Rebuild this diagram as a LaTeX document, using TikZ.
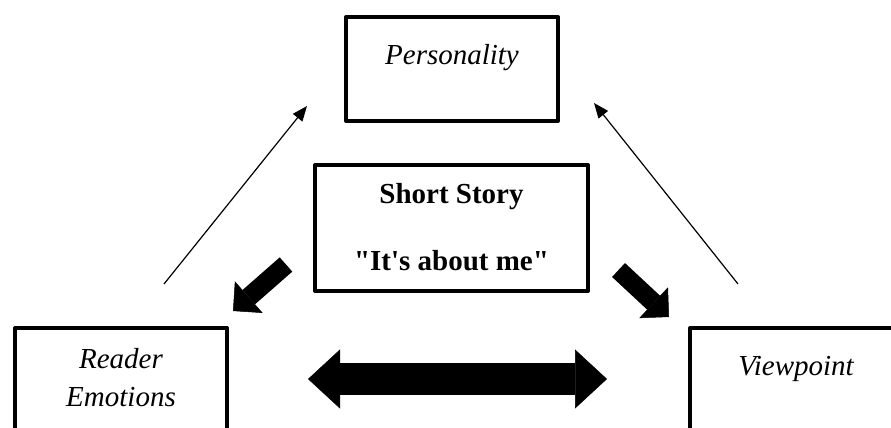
\documentclass[tikz,border=0pt]{standalone}
\usepackage{fontspec}
\newfontfamily\boxfont{Liberation Serif}
\usetikzlibrary{arrows.meta}

\tikzset{
	box/.style = {draw, line width = 4pt, line join = round, inner sep = 0pt},
	lbl/.style = {font = \boxfont\fontsize{29}{35}\selectfont, inner sep = 0pt, anchor = base},
	thinarrow/.style = {line width = 1.2pt, -{Triangle[length = 15pt, width = 12pt]}},
	blockarrow/.style = {line width = 19pt, -{Triangle[length = 21pt, width = 42pt, line width = 0.5pt]}},
	bigarrow/.style = {line width = 32pt, {Triangle[length = 32pt, width = 59pt, line width = 0.5pt]}-{Triangle[length = 32pt, width = 59pt, line width = 0.5pt]}}
}

\begin{document}
\begin{tikzpicture}[x = 1pt, y = -1pt]
	 \useasboundingbox (0, 0) rectangle (891, 428);
	 \clip (0, 0) rectangle (891, 428);
	 
	 % boxes
	 \node[box, minimum width = 212pt, minimum height = 104pt] (pers) at (452, 69) {};
	 \node[box, minimum width = 273pt, minimum height = 126pt] (story) at (451.5, 228) {};
	 \node[box, minimum width = 212pt, minimum height = 106pt] (reader) at (121, 381) {};
	 \node[box, minimum width = 212pt, minimum height = 106pt] (view) at (796, 381) {};
	 
	 % texts
	 \node[lbl] (perstext) at (452, 64) {\itshape Personality};
	 \node[lbl] (storytitle) at (451.5, 203) {\bfseries Short Story};
	 \node[lbl] (storyquote) at (451.5, 270) {\bfseries "It's about me"};
	 \node[lbl] (readertop) at (121, 368) {\itshape Reader};
	 \node[lbl] (readerbottom) at (121, 406) {\itshape Emotions};
	 \node[lbl] (viewtext) at (796, 375) {\itshape Viewpoint};
	 
	 % thin arrows up to the top box
	 \coordinate (lfoot) at (164, 284);
	 \coordinate (ltip) at (307, 106);
	 \coordinate (rfoot) at (738, 284);
	 \coordinate (rtip) at (594, 103);
	 \draw[thinarrow] (lfoot) -- (ltip);
	 \draw[thinarrow] (rfoot) -- (rtip);
	 
	 % block arrows
	 \coordinate (ltail) at (286, 264.5);
	 \coordinate (lhead) at (233, 311);
	 \coordinate (rtail) at (618.5, 270);
	 \coordinate (rhead) at (669, 317);
	 \draw[blockarrow] (ltail) -- (lhead);
	 \draw[blockarrow] (rtail) -- (rhead);
	 
	 \coordinate (dleft) at (308, 379);
	 \coordinate (dright) at (607, 379);
	 \draw[bigarrow] (dleft) -- (dright);
\end{tikzpicture}
\end{document}
